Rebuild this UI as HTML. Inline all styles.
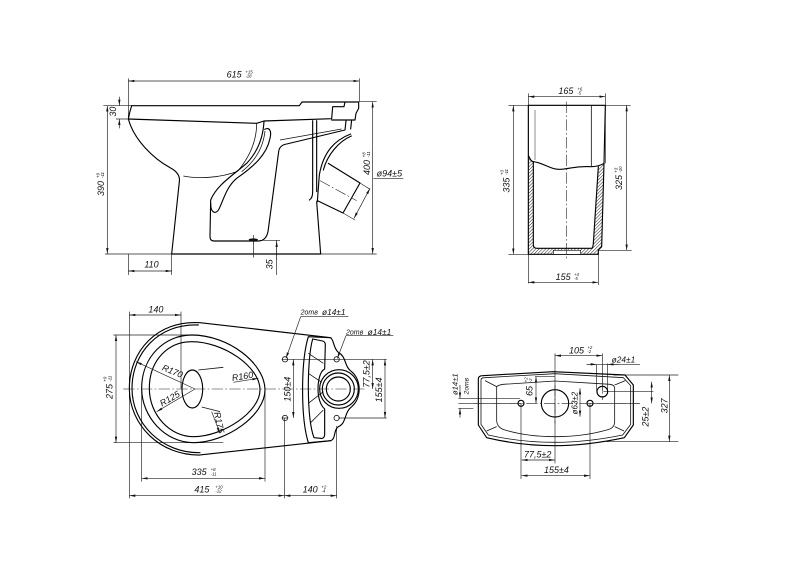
<!DOCTYPE html>
<html><head><meta charset="utf-8"><style>
html,body{margin:0;padding:0;background:#fff;width:800px;height:565px;overflow:hidden}
svg{display:block;filter:blur(.3px)}
text{font-family:"Liberation Sans",sans-serif;font-style:italic;fill:#111}
.o{fill:none;stroke:#000;stroke-width:3.4;stroke-linejoin:round;stroke-linecap:round}
.m{fill:none;stroke:#111;stroke-width:2.4}
.d{fill:none;stroke:#222;stroke-width:2}
.a{fill:none;stroke:#222;stroke-width:2;marker-start:url(#ar);marker-end:url(#ar)}
.e{fill:none;stroke:#222;stroke-width:2;marker-end:url(#ar)}
.c{fill:none;stroke:#222;stroke-width:1.8;stroke-dasharray:34 7 5 7}
.t{font-size:27px}.s{font-size:13px}
.h{fill:url(#hat);stroke:none}
</style></head><body>
<svg width="800" height="565" viewBox="0 0 800 565" xmlns="http://www.w3.org/2000/svg">
<defs>
<marker id="ar" markerUnits="userSpaceOnUse" markerWidth="20" markerHeight="10" refX="18" refY="5" orient="auto-start-reverse"><path d="M0,1.5L18,5L0,8.5z" fill="#111"/></marker>
<pattern id="hat" width="7" height="7" patternUnits="userSpaceOnUse" patternTransform="rotate(-45)"><rect width="7" height="7" fill="#fff"/><line x1="0" y1="0" x2="7" y2="0" stroke="#222" stroke-width="3"/></pattern>
</defs>

<!-- side view -->
<g transform="translate(90,60) scale(.33333)">
<path class="d" d="M115,55V180M808,55V125M40,137H125M78,177H118M45,582H860M808,125H860M245,582V645M115,582V645M490,525V592M510,541H570M560,541V645"/>
<path class="a" d="M115,63H808"/><path class="a" d="M848,125V582"/><path class="a" d="M52,137V582"/><path class="a" d="M115,633H245"/>
<path class="e" d="M88,110V137"/><path class="e" d="M88,205V177"/>
<path class="e" d="M560,600V543"/>
<path class="o" d="M125,137H628L636,126H806L806,145L798,160L795,180H785"/>
<path class="o" d="M125,137Q118,158 115,177C132,240 190,295 240,323Q272,340 268,365L245,582H692L680,425"/>
<path class="o" d="M115,177L500,190L522,183L725,176L728,140H762L765,126M725,180H785L782,207"/>
<path class="m" d="M500,190C500,240 480,290 442,335M280,348C330,358 395,352 440,335"/>
<path class="o" d="M522,183C520,225 508,270 470,310C430,345 380,375 362,420L360,530Q360,543 372,543H505Q528,543 534,515L566,275Q568,256 590,252L765,210L768,182"/>
<path class="o" d="M524,208C540,200 545,215 540,235C530,285 490,320 440,355C410,380 400,420 388,445C378,465 362,460 362,430"/>
<path class="m" d="M525,213C520,260 500,300 455,335M570,240L755,207"/>
<path class="o" d="M668,182V395Q668,415 658,420M680,182V395"/>
<path class="o" d="M782,222C735,240 700,275 688,345L682,425M784,228C745,245 712,285 700,330"/>
<path class="o" d="M715,310L810,369L759,459L682,422"/>
<path class="d" d="M810,369L840,388M759,459L795,480"/>
<path class="c" d="M690,362L800,422"/>
<path class="d" d="M850,355H940"/><path class="a" d="M840,385L792,475"/>
<ellipse cx="490" cy="539" rx="14" ry="4" fill="#111"/>
<path class="d" stroke-dasharray="10 5" d="M490,545V592"/>
<text x="410" y="52" class="t">615</text><text x="466" y="41" class="s">+15</text><text x="466" y="53" class="s">-18</text>
<text transform="translate(78,170) rotate(-90)" class="t">30</text>
<text transform="translate(42,408) rotate(-90)" class="t">390</text><text transform="translate(28,354) rotate(-90)" class="s">+9</text><text transform="translate(42,354) rotate(-90)" class="s">-11</text>
<text x="163" y="622" class="t">110</text>
<text transform="translate(548,628) rotate(-90)" class="t">35</text>
<text transform="translate(840,345) rotate(-90)" class="t">400</text><text transform="translate(826,292) rotate(-90)" class="s">+8</text><text transform="translate(840,292) rotate(-90)" class="s">-11</text>
<text x="860" y="350" class="t">ø94±5</text>
</g>

<!-- end view -->
<g transform="translate(490,70) scale(.33333)">
<path class="d" d="M115,70V640M346,70V280M55,106H422M55,553H115M325,541H425M325,553V645"/>
<path class="a" d="M115,80H346"/><path class="a" d="M70,106V553"/><path class="a" d="M410,106V541"/><path class="a" d="M115,637H325"/>
<path class="h" d="M116,258L130,275V525Q130,535 142,535H305L310,520L325,290L342,280L335,530L325,540V553H116Z"/>
<path class="o" d="M115,106H346M115,106V553H325V540L335,530L342,280L346,106"/>
<path class="m" d="M304,106V288"/>
<path class="m" d="M135,120V270" stroke-opacity=".6"/>
<path class="o" d="M116,258C120,268 125,275 130,275C160,278 180,298 205,298C240,298 250,287 305,290C320,290 335,285 342,280"/>
<path class="o" d="M130,275V525Q130,535 142,535H304Q309,535 310,520L325,290"/>
<path d="M190,541H272V553H190Z" fill="#fff" stroke="#111" stroke-width="2"/>
<path class="c" d="M230,95V565"/>
<text x="205" y="72" class="t">165</text><text x="262" y="62" class="s">+6</text><text x="262" y="74" class="s">-5</text>
<text transform="translate(58,368) rotate(-90)" class="t">335</text><text transform="translate(40,315) rotate(-90)" class="s">+3</text><text transform="translate(54,315) rotate(-90)" class="s">-11</text>
<text transform="translate(396,360) rotate(-90)" class="t">325</text><text transform="translate(382,308) rotate(-90)" class="s">+3</text><text transform="translate(396,308) rotate(-90)" class="s">-10</text>
<text x="197" y="630" class="t">155</text><text x="252" y="618" class="s">+4</text><text x="252" y="630" class="s">-5</text>
</g>

<!-- plan view -->
<g transform="translate(90,295) scale(.33333)">
<path class="d" d="M118,50V610M273,50V280M70,120H310M70,443H400M155,280V560M525,280V560M583,369V610M740,393V610M575,193H890M745,369H890M575,369H595"/>
<path class="a" d="M118,60H273"/><path class="a" d="M78,120V443"/><path class="a" d="M155,550H525"/><path class="a" d="M118,602H583"/><path class="a" d="M583,602H740"/>
<path class="a" d="M610,193V369"/><path class="a" d="M848,193V282"/><path class="a" d="M885,193V369"/>
<path class="o" d="M722,128L330,83C200,75 118,170 118,280C118,390 210,482 330,480L722,437"/>
<path class="o" d="M325,90C205,85 126,175 126,280C126,385 215,475 330,473"/>
<path class="o" d="M155,280C155,185 225,120 305,120C415,120 525,205 525,285C525,360 410,443 310,443C225,443 155,365 155,280Z"/>
<path class="o" d="M178,280C178,195 235,140 305,140C400,140 510,215 510,285C510,350 400,425 310,425C240,425 178,360 178,280Z"/>
<ellipse class="o" cx="307" cy="282" rx="31" ry="57"/>
<path class="m" d="M325,225L400,217M335,336L390,350"/>
<path class="o" d="M722,128C732,135 730,160 745,172C770,185 762,215 785,230C815,255 815,310 785,335C762,352 770,385 745,395C730,405 738,432 722,437L655,443C632,370 632,200 655,125L722,128"/>
<path class="o" d="M668,132L698,138Q706,140 706,150L704,222C688,230 684,262 684,282C684,305 690,330 704,342L704,420Q702,432 692,430L672,428C650,370 650,195 668,132Z"/>
<path class="m" d="M655,175L700,205M655,235L695,262M655,325L700,290M660,385L700,345"/>
<circle class="o" cx="747" cy="282" r="58"/><circle class="o" cx="745" cy="282" r="48"/><circle class="o" cx="745" cy="282" r="36"/>
<circle class="m" cx="585" cy="193" r="8"/><circle class="m" cx="585" cy="369" r="8"/><circle class="m" cx="740" cy="193" r="8"/><circle class="m" cx="740" cy="369" r="8"/>
<path class="c" d="M100,282H830"/>
<path class="d" d="M632,65H775M768,122H910"/>
<path class="e" d="M632,65L588,190"/><path class="e" d="M768,122L742,190"/>
<path class="e" d="M315,282L138,200"/><path class="e" d="M315,282L200,350"/><path class="e" d="M430,262L505,250"/><path class="e" d="M365,350L390,415"/>
<text x="175" y="52" class="t">140</text>
<text transform="translate(68,312) rotate(-90)" class="t">275</text><text transform="translate(50,260) rotate(-90)" class="s">+9</text><text transform="translate(64,260) rotate(-90)" class="s">-11</text>
<text x="632" y="59" style="font-size:21px">2отв</text><text x="696" y="60" style="font-size:25px">ø14±1</text>
<text x="768" y="118" style="font-size:21px">2отв</text><text x="833" y="120" style="font-size:25px">ø14±1</text>
<text transform="translate(214,225) rotate(22)" class="t">R170</text>
<text transform="translate(216,335) rotate(-30)" class="t">R125</text>
<text transform="translate(427,258) rotate(-9)" class="t">R160</text>
<text transform="translate(372,353) rotate(78)" class="t">R175</text>
<text transform="translate(602,320) rotate(-90)" class="t">150±4</text>
<text transform="translate(838,278) rotate(-90)" class="t">77,5±2</text>
<text transform="translate(876,322) rotate(-90)" class="t">155±4</text>
<text x="305" y="540" class="t">335</text><text x="362" y="528" class="s">+8</text><text x="362" y="541" class="s">-11</text>
<text x="313" y="592" class="t">415</text><text x="376" y="580" class="s">+10</text><text x="376" y="593" class="s">-12</text>
<text x="638" y="592" class="t">140</text><text x="694" y="580" class="s">+2</text><text x="694" y="593" class="s">-4</text>
</g>

<!-- tank plan -->
<g transform="translate(440,335) scale(.33333)">
<path class="d" d="M345,55V385M243,205V432M450,205V432M487,55V170M470,90V170M503,85V170M55,205H245M55,190H240M55,220H100M285,125H345M490,170H640M520,120H715M500,320H715M450,205H600"/>
<path class="a" d="M345,62H487"/><path class="a" d="M688,120V320"/><path class="a" d="M635,140V205"/>
<path class="a" d="M288,125V205"/><path class="a" d="M245,375H345"/><path class="a" d="M245,422H450"/><path class="a" d="M420,160V245"/>
<path class="e" d="M60,150V190"/><path class="e" d="M60,248V220"/>
<path class="d" d="M440,88H600"/><path class="e" d="M440,88H470"/><path class="e" d="M535,88H503"/>
<path class="o" d="M115,132Q115,122 128,122L340,110L555,120L580,150V270L553,308Q440,332 345,332Q240,332 140,308L115,270Z"/>
<path class="m" d="M123,135Q123,128 135,128L345,116L550,128L572,152V268L548,300Q440,322 345,322Q240,322 145,300L123,268Z"/>
<path class="m" d="M170,155Q175,150 190,148L345,138L510,148Q524,150 524,160V260Q524,280 500,285Q430,305 345,305Q260,305 195,285Q170,278 170,255Z"/>
<path class="m" d="M135,137L170,155M556,137L524,150M140,288L170,275M552,288L524,275"/>
<circle class="o" cx="345" cy="205" r="41"/>
<circle class="o" cx="487" cy="170" r="16"/>
<circle class="o" cx="243" cy="205" r="9"/><circle class="o" cx="450" cy="205" r="9"/>
<path class="c" d="M100,205H600"/><path class="c" d="M345,150V265"/><path class="c" d="M487,130V195"/>
<text x="387" y="55" class="t">105</text><text x="442" y="42" class="s">+2</text><text x="442" y="54" class="s">-2</text>
<text x="515" y="82" style="font-size:25px">ø24±1</text>
<text transform="translate(52,180) rotate(-90)" style="font-size:23px">ø14±1</text>
<text transform="translate(85,178) rotate(-90)" style="font-size:20px">2отв</text>
<text transform="translate(278,183) rotate(-90)" class="t">65</text><text transform="translate(262,142) rotate(-90)" class="s">+2</text><text transform="translate(276,142) rotate(-90)" class="s">-2</text>
<text transform="translate(413,238) rotate(-90)" style="font-size:24px">ø63±2</text>
<text transform="translate(626,275) rotate(-90)" class="t">25±2</text>
<text transform="translate(682,235) rotate(-90)" class="t">327</text>
<text x="252" y="368" class="t">77,5±2</text>
<text x="312" y="414" class="t">155±4</text>
</g>
</svg>
</body></html>
